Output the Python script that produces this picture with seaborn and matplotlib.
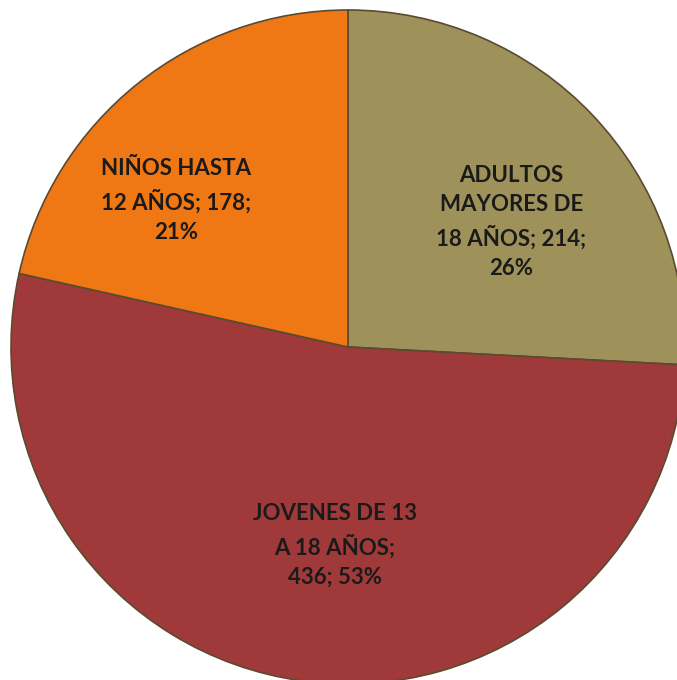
import numpy as np
import matplotlib
matplotlib.use("Agg")
import matplotlib.pyplot as plt
import seaborn as sns

# Data
categories = ["ADULTOS\nMAYORES DE\n18 AÑOS", "JOVENES DE 13\nA 18 AÑOS", "NIÑOS HASTA\n12 AÑOS"]
values = [214, 436, 178]
colors = ["#9E925A", "#A03A3A", "#F07814"]
label_seps = ["; ", ";\n", "; "]
pct_seps = [";\n", "; ", ";\n"]

sns.set_theme(style="white")
plt.rcParams["font.family"] = ["Lato", "DejaVu Sans"]

W, H = 677, 680
fig = plt.figure(figsize=(W / 100, H / 100), dpi=100)
ax = fig.add_axes([0, 0, 1, 1])

cx, cy, R = 348, H - 347, 337
wedges, _ = ax.pie(values, colors=colors, startangle=90, counterclock=False,
                   center=(cx, cy), radius=R, frame=True,
                   wedgeprops=dict(edgecolor="#5a4a30", linewidth=1.2))
ax.set_xlim(0, W)
ax.set_ylim(0, H)
ax.set_aspect("equal")
ax.axis("off")

total = sum(values)
# label placement (angle offset in degrees, radius fraction)
placements = [(-6, 0.61), (4, 0.59), (11, 0.67)]
for w, cat, v, s1, s2, (doff, fr) in zip(wedges, categories, values, label_seps, pct_seps, placements):
    pct = int(round(100 * v / total))
    txt = f"{cat}{s1}{v}{s2}{pct}%"
    mid = np.deg2rad((w.theta1 + w.theta2) / 2 + doff)
    x = cx + fr * R * np.cos(mid)
    y = cy + fr * R * np.sin(mid)
    ax.text(x, y, txt, ha="center", va="center", fontsize=16, fontweight="bold",
            color="#1a1a1a", linespacing=1.5)

fig.savefig("out.png", dpi=100)
